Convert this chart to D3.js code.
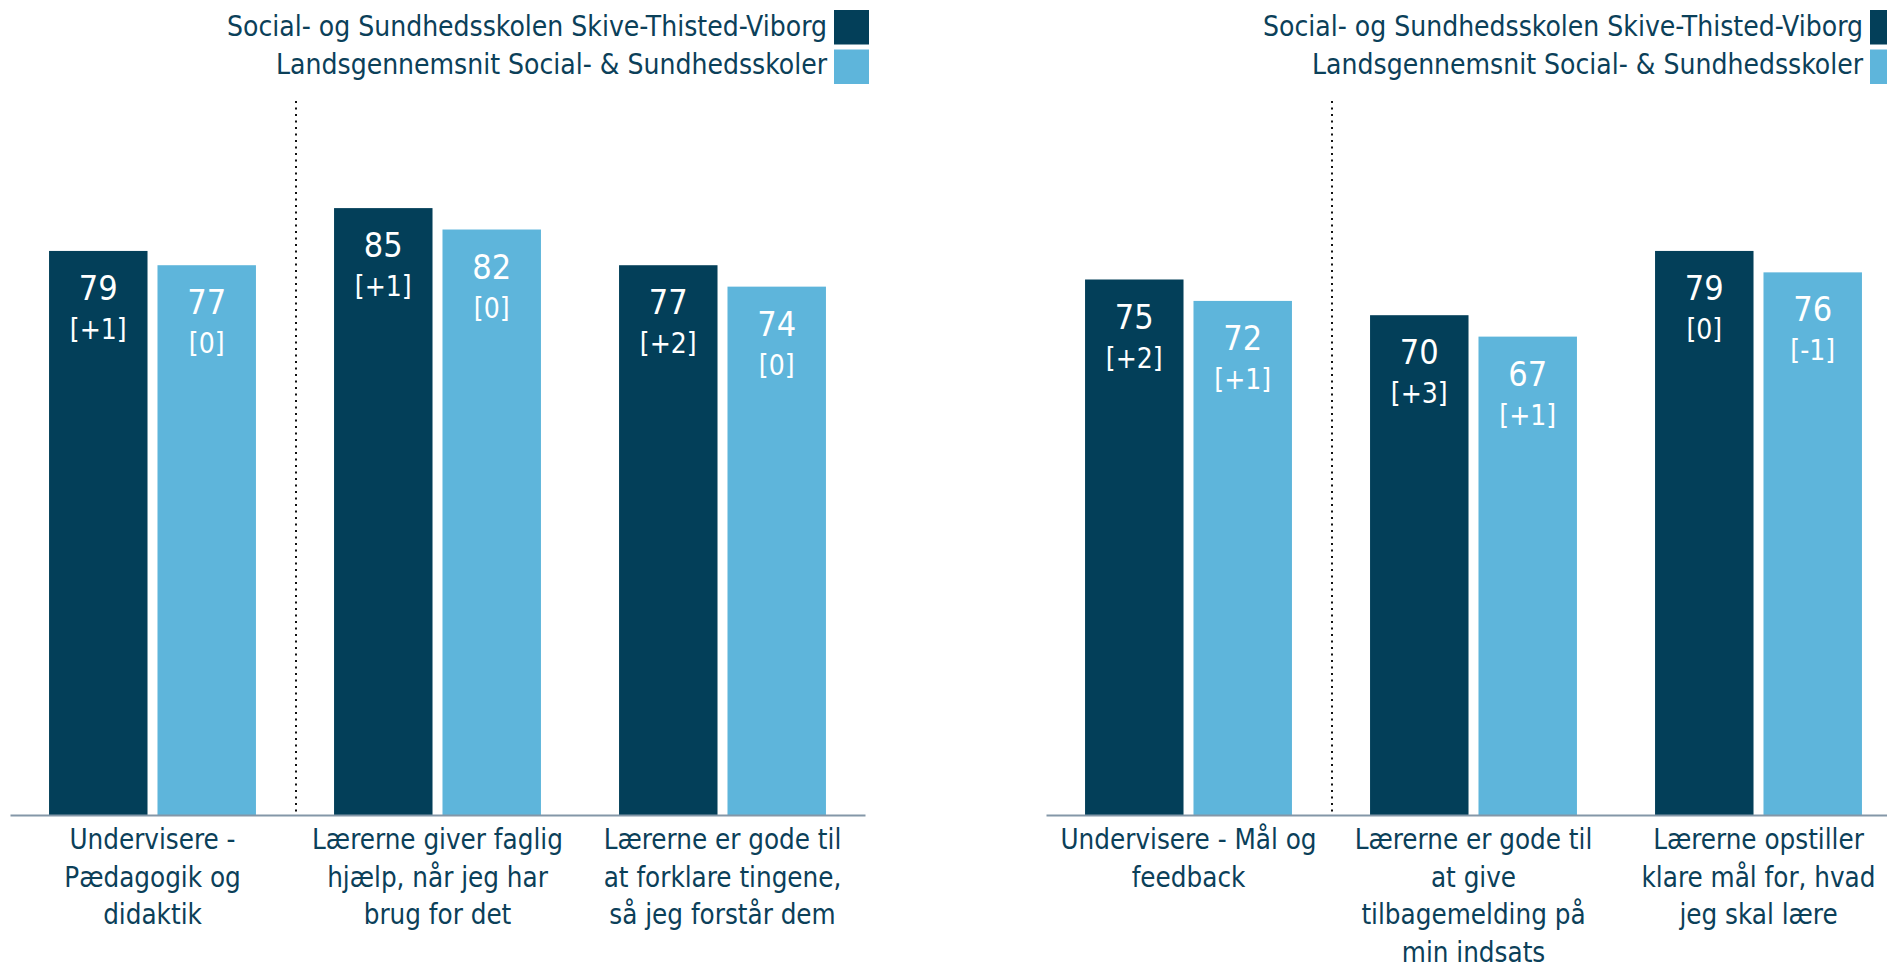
<!DOCTYPE html>
<html>
<head>
<meta charset="utf-8">
<script src="https://cdn.jsdelivr.net/npm/d3@7"></script>
<style>
  html, body { margin: 0; padding: 0; background: #fff; }
  svg text { font-family: 'DejaVu Sans Condensed', 'DejaVu Sans', sans-serif; font-stretch: condensed; }
</style>
</head>
<body>
<div id="chart"></div>
<script>
// series names shown in the legend
const seriesNames = [
  "Social- og Sundhedsskolen Skive-Thisted-Viborg",
  "Landsgennemsnit Social- & Sundhedsskoler"
];

// left panel
const leftCategories = [
  "Undervisere -\nPædagogik og\ndidaktik",
  "Lærerne giver faglig\nhjælp, når jeg har\nbrug for det",
  "Lærerne er gode til\nat forklare tingene,\nså jeg forstår dem"
];
const leftSchool = [79, 85, 77];
const leftSchoolChange = ["[+1]", "[+1]", "[+2]"];
const leftNational = [77, 82, 74];
const leftNationalChange = ["[0]", "[0]", "[0]"];

// right panel
const rightCategories = [
  "Undervisere - Mål og\nfeedback",
  "Lærerne er gode til\nat give\ntilbagemelding på\nmin indsats",
  "Lærerne opstiller\nklare mål for, hvad\njeg skal lære"
];
const rightSchool = [75, 70, 79];
const rightSchoolChange = ["[+2]", "[+3]", "[0]"];
const rightNational = [72, 67, 76];
const rightNationalChange = ["[+1]", "[+1]", "[-1]"];

const colors = ["#033f59", "#5eb5db"];
const textColor = "#0b4059";

const svg = d3.select("#chart").append("svg")
  .attr("width", 1887)
  .attr("height", 964);

// y scale shared by both panels: 0..100
const yScale = d3.scaleLinear().domain([0, 100]).range([815, 101]);

function drawPanel(offsetX, categories, school, schoolChange, national, nationalChange) {
  const $g = svg.append("g").attr("transform", `translate(${offsetX},0)`);

  const rows = categories.map((c, i) => ({
    cat: c,
    vals: [
      { s: 0, v: school[i], ch: schoolChange[i] },
      { s: 1, v: national[i], ch: nationalChange[i] }
    ]
  }));

  const x0 = d3.scaleBand()
    .domain(categories)
    .range([10, 865])
    .paddingInner(0.274)
    .paddingOuter(0.137);

  const x1 = d3.scaleBand()
    .domain([0, 1])
    .range([0, x0.bandwidth()])
    .paddingInner(0.092);

  // dotted separator after the first category
  const sepX = x0(categories[0]) + x0.step() - x0.step() * x0.paddingInner() / 2 + 1;
  $g.append("line")
    .attr("x1", sepX).attr("x2", sepX)
    .attr("y1", yScale(100)).attr("y2", yScale(0))
    .attr("stroke", "#111")
    .attr("stroke-width", 2)
    .attr("stroke-dasharray", "2,4.5");

  const $group = $g.selectAll(".grp")
    .data(rows)
    .enter().append("g")
    .attr("transform", d => `translate(${x0(d.cat)},0)`);

  const $bar = $group.selectAll("g")
    .data(d => d.vals)
    .enter().append("g");

  $bar.append("rect")
    .attr("x", d => x1(d.s))
    .attr("y", d => yScale(d.v))
    .attr("width", x1.bandwidth())
    .attr("height", d => yScale(0) - yScale(d.v))
    .attr("fill", d => colors[d.s]);

  $bar.append("text")
    .attr("x", d => x1(d.s) + x1.bandwidth() / 2)
    .attr("y", d => yScale(d.v) + 49)
    .attr("text-anchor", "middle")
    .attr("fill", "#fff")
    .style("font-size", "34px")
    .text(d => d.v);

  $bar.append("text")
    .attr("x", d => x1(d.s) + x1.bandwidth() / 2)
    .attr("y", d => yScale(d.v) + 88)
    .attr("text-anchor", "middle")
    .attr("fill", "#fff")
    .style("font-size", "28px")
    .text(d => d.ch);

  // x axis
  const $xAxis = $g.append("g")
    .attr("transform", `translate(0,${yScale(0)})`)
    .call(d3.axisBottom(x0).tickSize(0).tickSizeOuter(0).tickPadding(0));
  $xAxis.select(".domain")
    .attr("stroke", "#8497a8")
    .attr("stroke-width", 2);
  $xAxis.selectAll(".tick text").each(function (d) {
    const $t = d3.select(this);
    $t.text(null)
      .attr("y", 0)
      .attr("dy", null)
      .attr("fill", textColor)
      .style("font-size", "27.5px");
    d.split("\n").forEach((line, i) => {
      $t.append("tspan")
        .attr("x", 0)
        .attr("y", 34 + i * 37.5)
        .text(line);
    });
  });

  // legend
  const $legend = $g.append("g");
  seriesNames.forEach((name, i) => {
    $legend.append("rect")
      .attr("x", 834).attr("y", 10 + i * 39.5)
      .attr("width", 35).attr("height", 34.5)
      .attr("fill", colors[i]);
    $legend.append("text")
      .attr("x", 827).attr("y", 36 + i * 38)
      .attr("text-anchor", "end")
      .attr("fill", textColor)
      .style("font-size", "28px")
      .text(name);
  });
}

drawPanel(0, leftCategories, leftSchool, leftSchoolChange, leftNational, leftNationalChange);
drawPanel(1036, rightCategories, rightSchool, rightSchoolChange, rightNational, rightNationalChange);
</script>
</body>
</html>
